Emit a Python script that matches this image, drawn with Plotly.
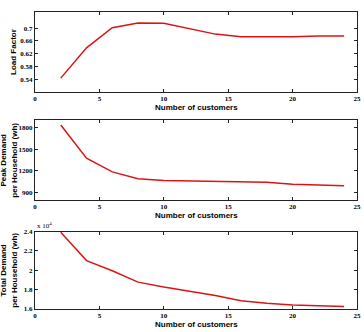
import plotly.graph_objects as go

customers = [2, 4, 6, 8, 10, 12, 14, 16, 18, 20, 22, 24]
load_factor = [0.543, 0.638, 0.701, 0.716, 0.715, 0.699, 0.681, 0.673, 0.672, 0.673, 0.675, 0.675]
peak_demand = [1836, 1376, 1187, 1094, 1067, 1062, 1058, 1050, 1043, 1016, 1007, 994]
total_demand = [23930, 21000, 19950, 18765, 18260, 17850, 17380, 16840, 16570, 16400, 16340, 16230]

x_ticks = [0, 5, 10, 15, 20, 25]
lf_ticks = [0.54, 0.58, 0.62, 0.66, 0.70]
lf_labels = ["0.54", "0.58", "0.62", "0.66", "0.7"]
pd_ticks = [900, 1200, 1500, 1800]
td_ticks = [16000, 18000, 20000, 22000, 24000]
td_labels = ["1.6", "1.8", "2", "2.2", "2.4"]

W, H = 364, 332
L, R = 35, 7
PW = W - L - R
red = "#dc1414"
tick_font = dict(family="Liberation Serif", size=7, color="#000", weight="bold")
title_font = dict(family="Liberation Sans", size=8, color="#000")

def fy(px):
    return 1 - px / H

def fx(px):
    return (px - L) / PW

fig = go.Figure()
fig.add_trace(go.Scatter(x=customers, y=load_factor, mode="lines", line=dict(color=red, width=1.5), xaxis="x", yaxis="y"))
fig.add_trace(go.Scatter(x=customers, y=peak_demand, mode="lines", line=dict(color=red, width=1.5), xaxis="x2", yaxis="y2"))
fig.add_trace(go.Scatter(x=customers, y=total_demand, mode="lines", line=dict(color=red, width=1.5), xaxis="x3", yaxis="y3"))

common_ax = dict(showline=True, linecolor="#222", linewidth=1, mirror="ticks", ticks="inside",
                 ticklen=3, tickcolor="#222", showgrid=False, zeroline=False, tickfont=tick_font)

domains = [(8.3, 90.0), (119.3, 200.7), (233.3, 312.3)]
layout = dict(width=W, height=H, margin=dict(l=L, r=R, t=0, b=0),
              plot_bgcolor="white", paper_bgcolor="white", showlegend=False)

for i, (top, bot) in enumerate(domains):
    sx = "" if i == 0 else str(i + 1)
    layout["xaxis" + sx] = dict(common_ax, domain=[0, 1], range=[0, 25], tickvals=x_ticks,
                                anchor="y" + sx)
    layout["yaxis" + sx] = dict(common_ax, domain=[fy(bot), fy(top)], anchor="x" + sx)

layout["yaxis"].update(range=[0.5, 0.75], tickvals=lf_ticks, ticktext=lf_labels)
layout["yaxis2"].update(range=[800, 1900], tickvals=pd_ticks)
layout["yaxis3"].update(range=[16000, 24000], tickvals=td_ticks, ticktext=td_labels)

fig.update_layout(**layout)

annotations = []
for (top, bot) in domains:
    annotations.append(dict(text="<b>Number of customers</b>", x=0.5, y=fy(bot + 16), xref="paper", yref="paper",
                            showarrow=False, font=title_font, xanchor="center", yanchor="middle"))
annotations.append(dict(text="<b>Load Factor</b>", x=fx(14), y=fy((8.3 + 90) / 2), xref="paper", yref="paper",
                        showarrow=False, font=title_font, textangle=-90, xanchor="center", yanchor="middle"))
annotations.append(dict(text="<b>Peak Demand<br>per Household (wh)</b>", x=fx(8.5), y=fy((119.3 + 200.7) / 2),
                        xref="paper", yref="paper", showarrow=False, font=title_font, textangle=-90,
                        xanchor="center", yanchor="middle"))
annotations.append(dict(text="<b>Total Demand<br>per Household (wh)</b>", x=fx(8.5), y=fy((233.3 + 312.3) / 2),
                        xref="paper", yref="paper", showarrow=False, font=title_font, textangle=-90,
                        xanchor="center", yanchor="middle"))
annotations.append(dict(text="x 10<sup>4</sup>", x=0.0, y=fy(227), xref="paper", yref="paper",
                        showarrow=False, font=dict(family="Liberation Serif", size=7, color="#000"),
                        xanchor="left", yanchor="middle"))
fig.update_layout(annotations=annotations)

fig.write_html("out.html")
